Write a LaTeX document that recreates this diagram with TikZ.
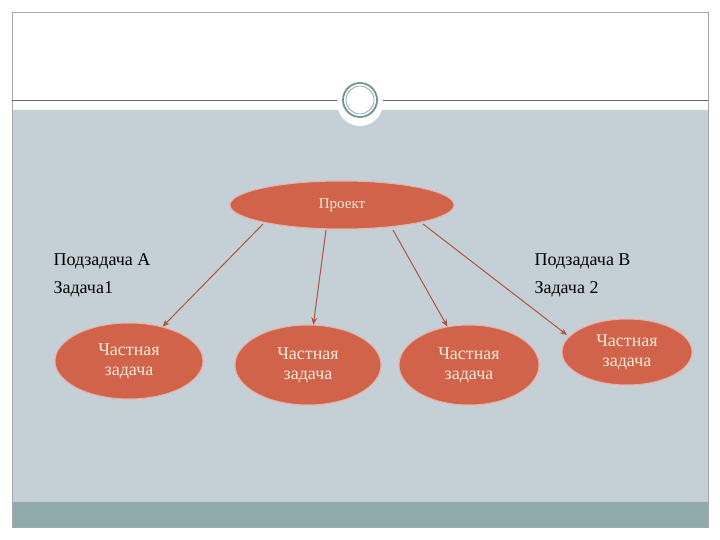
\documentclass[tikz,border=0pt]{standalone}
\usepackage{fontspec}
\setmainfont{Liberation Serif}
\usetikzlibrary{arrows.meta,shapes.geometric}
\definecolor{bgg}{HTML}{C5D0D6}
\definecolor{band}{HTML}{8FAAAA}
\definecolor{ell}{HTML}{D0634A}
\definecolor{txt}{HTML}{FBEBD8}
\definecolor{ring}{HTML}{6E9490}
\begin{document}
\begin{tikzpicture}[x=1pt,y=-1pt,
  elli/.style={ellipse, draw=ell!50!white, line width=1pt, fill=ell, text=txt, font=\fontsize{18}{20}\selectfont, align=center, inner sep=0pt},
  conn/.style={draw=ell!85!black, line width=1pt, -{Stealth[length=7pt,width=6pt]}},
  lbl/.style={anchor=west, font=\fontsize{18}{20}\selectfont}]
\useasboundingbox (0,0) rectangle (720,540);
\fill[white] (0,0) rectangle (720,540);
\fill[bgg] (12,110) rectangle (708,502);
\fill[band] (12,502) rectangle (708,527);
\draw[gray!70] (12,12) rectangle (708,527);
\draw[gray!80!black, line width=0.8pt] (12,100) -- (708,100);
\fill[white] (360,103) circle (23);
\draw[ring, line width=1.8pt] (360,100) circle (17);
\draw[ring, line width=0.6pt] (360,100) circle (14);
\node[elli, minimum width=224, minimum height=48] (p) at (342,205) {\fontsize{15}{17}\selectfont Проект};
\node[elli, minimum width=148, minimum height=76] (a) at (129,361) {Частная\\задача};
\node[elli, minimum width=146, minimum height=80] (b) at (308,365) {Частная\\задача};
\node[elli, minimum width=140, minimum height=80] (c) at (469,365) {Частная\\задача};
\node[elli, minimum width=130, minimum height=66] (d) at (627,352) {Частная\\задача};
\coordinate (s1) at (263,224);
\coordinate (s2) at (326,230);
\coordinate (s3) at (393,230);
\coordinate (s4) at (423,224);
\coordinate (e4) at (567,335);
\draw[conn] (s1) -- (a);
\draw[conn] (s2) -- (b);
\draw[conn] (s3) -- (c);
\draw[conn] (s4) -- (e4);
\node[lbl] (t1) at (50,261) {Подзадача А};
\node[lbl] (t2) at (50,289) {Задача1};
\node[lbl] (t3) at (531,261) {Подзадача В};
\node[lbl] (t4) at (531,289) {Задача 2};
\end{tikzpicture}
\end{document}
